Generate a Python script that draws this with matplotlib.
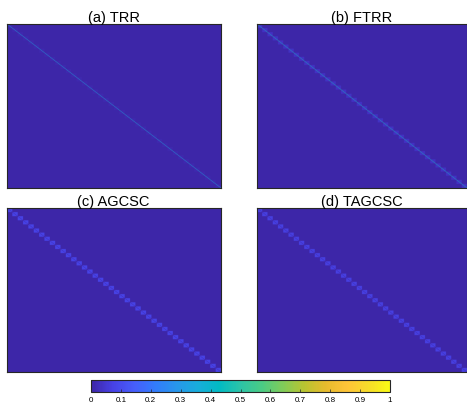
import numpy as np
import matplotlib
matplotlib.use("Agg")
from matplotlib import pyplot as plt
from matplotlib.colors import LinearSegmentedColormap

# ORL-like affinity matrices: 40 subjects x 10 samples
n_groups = 40
group_size = 10

titles = ["(a) TRR", "(b) FTRR", "(c) AGCSC", "(d) TAGCSC"]
block_vals = [0.01, 0.035, 0.075, 0.07]  # within-cluster affinity
diag_vals = [0.36, 0.45, 0.0, 0.0]       # self affinity

cbar_ticks = [0, 0.1, 0.2, 0.3, 0.4, 0.5, 0.6, 0.7, 0.8, 0.9, 1]
cbar_labels = ["0", "0.1", "0.2", "0.3", "0.4", "0.5", "0.6", "0.7", "0.8", "0.9", "1"]

# parula (MATLAB default) approximation
parula_anchors = [
    (0.2422, 0.1504, 0.6603), (0.2783, 0.2559, 0.8991), (0.2760, 0.3667, 0.9829),
    (0.1963, 0.4847, 0.9892), (0.1540, 0.5902, 0.9218), (0.0952, 0.6798, 0.8598),
    (0.0067, 0.7312, 0.7660), (0.1717, 0.7670, 0.6554), (0.2906, 0.7973, 0.5188),
    (0.5044, 0.7993, 0.3480), (0.7242, 0.7698, 0.1910), (0.9035, 0.7330, 0.1774),
    (0.9970, 0.7659, 0.2199), (0.9676, 0.8639, 0.1643), (0.9769, 0.9839, 0.0805),
]
parula = LinearSegmentedColormap.from_list("parula", parula_anchors, N=256)

plt.rcParams["font.family"] = ["Liberation Sans", "DejaVu Sans"]

W, H = 467, 406
fig = plt.figure(figsize=(W / 100, H / 100), dpi=100)

# axes boxes in pixels: left, top, right, bottom
boxes = [
    (6.5, 25, 220.5, 189),
    (257, 25, 467, 189),
    (6.5, 209, 220.5, 373),
    (257, 209, 467, 373),
]

n = n_groups * group_size
im = None
for title, blk, dg, (x0, y0, x1, y1) in zip(titles, block_vals, diag_vals, boxes):
    mat = np.kron(np.eye(n_groups), np.ones((group_size, group_size))) * blk
    mat[np.arange(n), np.arange(n)] = dg
    ax = fig.add_axes([x0 / W, (H - y1) / H, (x1 - x0) / W, (y1 - y0) / H])
    im = ax.imshow(mat, cmap=parula, vmin=0, vmax=1, aspect="auto")
    ax.set_xticks([])
    ax.set_yticks([])
    for sp in ax.spines.values():
        sp.set_color("#262626")
        sp.set_linewidth(0.8)
    ax.set_title(title, fontsize=10.5, pad=2.5)

cax = fig.add_axes([91 / W, (H - 393) / H, 299 / W, 12 / H])
cb = fig.colorbar(im, cax=cax, orientation="horizontal", ticks=cbar_ticks)
cb.ax.set_xticklabels(cbar_labels)
cb.ax.tick_params(direction="in", length=2, width=0.5, labelsize=5.8, pad=3, color="#262626")
cb.outline.set_linewidth(0.8)
cb.outline.set_edgecolor("#262626")

fig.savefig("out.png", dpi=100)
